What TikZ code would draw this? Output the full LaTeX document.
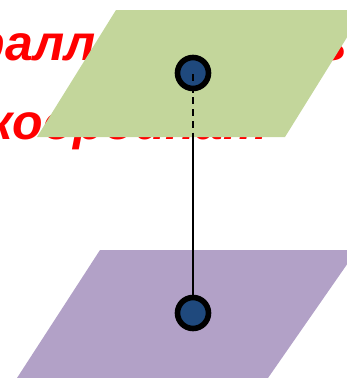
\documentclass[tikz,border=0pt]{standalone}
\usepackage{fontspec}
\setmainfont{Liberation Sans}
\definecolor{planegreen}{HTML}{C3D69B}
\definecolor{planepurple}{HTML}{B2A1C7}
\definecolor{dotblue}{HTML}{1F497D}
\definecolor{titlered}{HTML}{FF0000}
\tikzset{
  titletext/.style={text=titlered, font=\fontsize{50}{60}\selectfont\bfseries\itshape, inner sep=0pt, anchor=base west},
  dotnode/.style={circle, draw=black, line width=5.6pt, fill=dotblue, minimum size=31pt, inner sep=0pt},
  hiddenpart/.style={line width=2pt, dash pattern=on 7pt off 4.7pt, dash phase=10.7pt},
  visiblepart/.style={line width=2pt}
}
\begin{document}
\begin{tikzpicture}[x=1pt, y=-1pt]
\useasboundingbox (0,0) rectangle (347,378);
\clip (0,0) rectangle (347,378);
% title text (mostly hidden behind the upper plane)
\node[titletext] (t1) at (-89,60) {Параллельность плоскостей};
\node[titletext] (t2) at (-13,139) {координат};
% planes
\fill[planegreen] (116,10) -- (364,10) -- (285,137) -- (37,137) -- cycle;
\fill[planepurple] (100,250) -- (357,250) -- (268,378) -- (17,378) -- cycle;
% points and segment
\coordinate (c1) at (193,73);
\coordinate (m) at (193,137);
\coordinate (c2) at (193,313);
\node[dotnode] (p1) at (c1) {};
\draw[hiddenpart] (p1.center) -- (m);
\draw[visiblepart] (m) -- (c2);
\node[dotnode] (p2) at (c2) {};
\end{tikzpicture}
\end{document}
